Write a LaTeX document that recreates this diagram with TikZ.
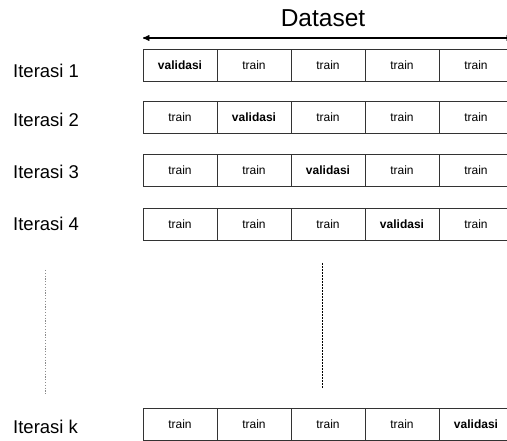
\documentclass[tikz,border=0pt]{standalone}
\usepackage{fontspec}
\setmainfont{Liberation Sans}
\usetikzlibrary{arrows,positioning}
\tikzset{
fold/.style={
    rectangle,
    draw=black!80,
    line width=0.8pt,
    minimum width=74pt,
    minimum height=32pt,
    inner sep=0pt,
    outer sep=0pt,
    font=\fontsize{12}{14}\selectfont
},
iterlabel/.style={
    anchor=west,
    inner sep=0pt,
    font=\fontsize{18.5}{20}\selectfont
},
datasetlabel/.style={
    inner sep=0pt,
    font=\fontsize{24.5}{26}\selectfont
},
spanarrow/.style={
    black,line width=1.3pt,>=stealth'
},
gapdots/.style={
    black!45,line width=1pt,dash pattern=on 1.2pt off 1.6pt
},
gapdash/.style={
    black,line width=0.7pt,dash pattern=on 1.8pt off 1.2pt
},
}

\begin{document}
\begin{tikzpicture}[x=1pt,y=-1pt]

\useasboundingbox (0,0) rectangle (507,441);

%
\foreach \n/\y/\ly/\v in {1/65/71/1,2/117/120/2,3/170/172/3,4/224/224/4,k/424/427/5}{
    \node [iterlabel] (lab\n) at (13,\ly) {Iterasi \n};
    \foreach \i in {1,...,5}{
        \node [fold] (r\n-\i) at (143+74*\i-37,\y)
            {\ifnum\i=\v\relax\textbf{validasi}\else train\fi};
    }
}
%
\node [datasetlabel] (ds) at (323,18) {Dataset};
\coordinate (dsL) at (143,38);
\coordinate (dsR) at (513,38);
\draw [<->,spanarrow] (dsL) -- (dsR);
%
\coordinate (dotA) at (45,270);
\coordinate (dotB) at (45,395);
\draw [gapdots] (dotA) -- (dotB);
\coordinate (dashA) at (322,263);
\coordinate (dashB) at (322,388);
\draw [gapdash] (dashA) -- (dashB);
%

\end{tikzpicture}
\end{document}
